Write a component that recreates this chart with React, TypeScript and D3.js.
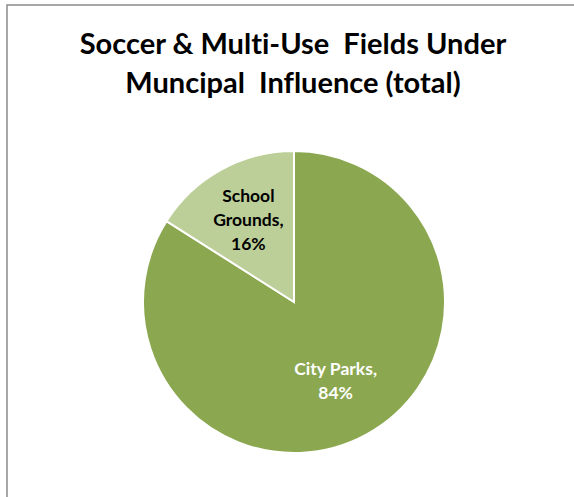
import React from "react";
import * as d3 from "d3";

const title = ["Soccer & Multi-Use  Fields Under", "Muncipal  Influence (total)"];
const categories = ["City Parks", "School Grounds"];
const values = [84, 16];
const colors = ["#8BA750", "#BCCF98"];
const labelColors = ["#ffffff", "#000000"];
const labelLines = [["City Parks,", "84%"], ["School", "Grounds,", "16%"]];

export default function App() {
  const W = 574, H = 497;
  const cx = 294, cy = 302, r = 151;
  const pie = d3.pie<number>().sort(null).value((d) => d).startAngle(0).endAngle(2 * Math.PI);
  const arcs = pie(values);
  const arc = d3.arc<d3.PieArcDatum<number>>().innerRadius(0).outerRadius(r);
  const labelArc = d3.arc<d3.PieArcDatum<number>>().innerRadius(r * 0.6).outerRadius(r * 0.6);
  const font = "Lato, 'Open Sans', sans-serif";
  const lineH = 24;
  const noLig = { fontVariantLigatures: "none", fontFeatureSettings: "'liga' 0, 'clig' 0" } as React.CSSProperties;
  return (
    <svg width={W} height={H} style={{ position: "absolute", left: 0, top: 0, background: "#fff" }}>
      <rect x={7} y={5} width={W + 20} height={H + 20} fill="#fff" stroke="#8a8a8a" strokeWidth={1.5} />
      <text x={293} textAnchor="middle" fontFamily={font} fontWeight="bold" fontSize={29} fill="#000" style={{ whiteSpace: "pre", ...noLig }}>
        <tspan x={293} y={54}>{title[0]}</tspan>
        <tspan x={293} y={93}>{title[1]}</tspan>
      </text>
      <g transform={`translate(${cx},${cy})`}>
        {arcs.map((a, i) => (
          <path key={categories[i]} d={arc(a) || ""} fill={colors[i]} stroke="#fff" strokeWidth={2} />
        ))}
        {arcs.map((a, i) => {
          const [lx, ly] = labelArc.centroid(a);
          const lines = labelLines[i];
          const n = lines.length;
          return (
            <text key={"l" + i} textAnchor="middle" fontFamily={font} fontWeight="bold" fontSize={17.5} fill={labelColors[i]} style={noLig}>
              {lines.map((s, j) => (
                <tspan key={j} x={lx - 2} y={ly + 6 + (j - (n - 1) / 2) * lineH - (n === 3 ? 3 : 0)}>{s}</tspan>
              ))}
            </text>
          );
        })}
      </g>
    </svg>
  );
}
